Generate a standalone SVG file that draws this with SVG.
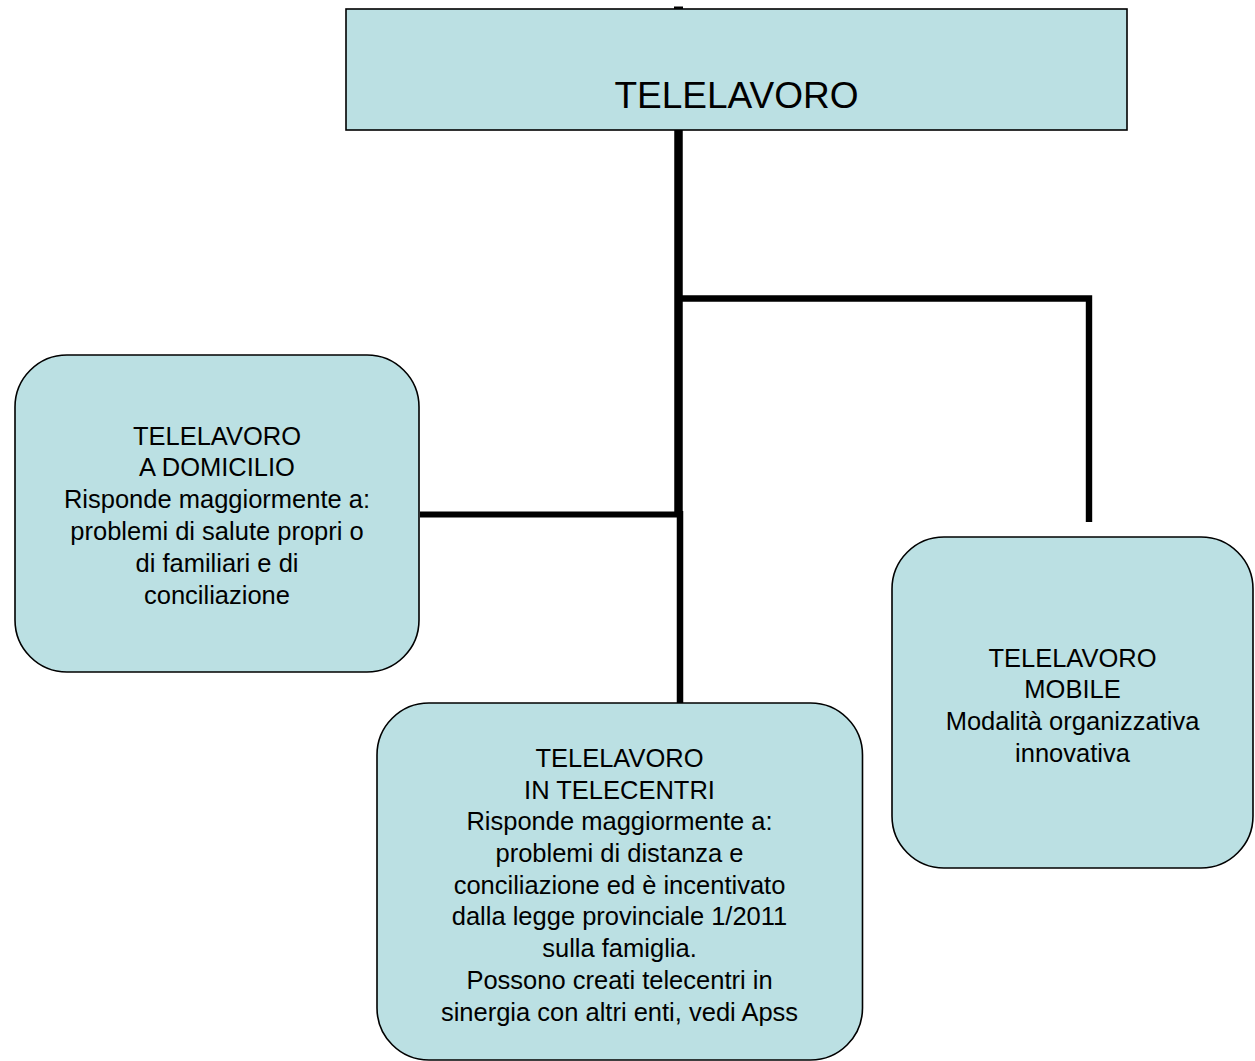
<svg xmlns="http://www.w3.org/2000/svg" width="1255" height="1061" viewBox="0 0 1255 1061">
<style>
.box{fill:#bbe0e3;stroke:#000;stroke-width:1.6}
.t{font-family:"Liberation Sans",Arial,sans-serif;font-size:25.5px;fill:#000;text-anchor:middle}
.title{font-family:"Liberation Sans",Arial,sans-serif;font-size:37px;fill:#000;text-anchor:middle}
.c{stroke:#000;fill:none;stroke-linecap:butt}
</style>
<rect width="1255" height="1061" fill="#fff"/>
<g id="connectors">
<line class="c" x1="678.5" y1="6.5" x2="678.5" y2="10" stroke-width="9"/>
<line class="c" x1="678.5" y1="130" x2="678.5" y2="517" stroke-width="8.5"/>
<line class="c" x1="680" y1="511" x2="680" y2="703" stroke-width="6.5"/>
<line class="c" x1="420" y1="514.5" x2="678" y2="514.5" stroke-width="5.8"/>
<polyline class="c" points="682,298.5 1089,298.5 1089,522" stroke-width="6.4"/>
</g>
<g id="node-telelavoro">
<rect class="box" x="346" y="9" width="781" height="121"/>
<text class="title" x="736.5" y="108">TELELAVORO</text>
</g>
<g id="node-domicilio">
<rect class="box" x="15" y="355" width="404" height="317" rx="52" ry="52"/>
<text class="t" x="217" y="444.5">TELELAVORO</text>
<text class="t" x="217" y="476">A DOMICILIO</text>
<text class="t" x="217" y="508">Risponde maggiormente a:</text>
<text class="t" x="217" y="540">problemi di salute propri o</text>
<text class="t" x="217" y="572">di familiari e di</text>
<text class="t" x="217" y="603.5">conciliazione</text>
</g>
<g id="node-telecentri">
<rect class="box" x="377" y="703" width="485.5" height="357" rx="52" ry="52"/>
<text class="t" x="619.5" y="767">TELELAVORO</text>
<text class="t" x="619.5" y="798.5">IN TELECENTRI</text>
<text class="t" x="619.5" y="830">Risponde maggiormente a:</text>
<text class="t" x="619.5" y="862">problemi di distanza e</text>
<text class="t" x="619.5" y="893.5">conciliazione ed è incentivato</text>
<text class="t" x="619.5" y="925">dalla legge provinciale 1/2011</text>
<text class="t" x="619.5" y="957">sulla famiglia.</text>
<text class="t" x="619.5" y="988.5">Possono creati telecentri in</text>
<text class="t" x="619.5" y="1020.5">sinergia con altri enti, vedi Apss</text>
</g>
<g id="node-mobile">
<rect class="box" x="892" y="537" width="361" height="331" rx="52" ry="52"/>
<text class="t" x="1072.5" y="666.5">TELELAVORO</text>
<text class="t" x="1072.5" y="698">MOBILE</text>
<text class="t" x="1072.5" y="730">Modalità organizzativa</text>
<text class="t" x="1072.5" y="761.5">innovativa</text>
</g>
</svg>
